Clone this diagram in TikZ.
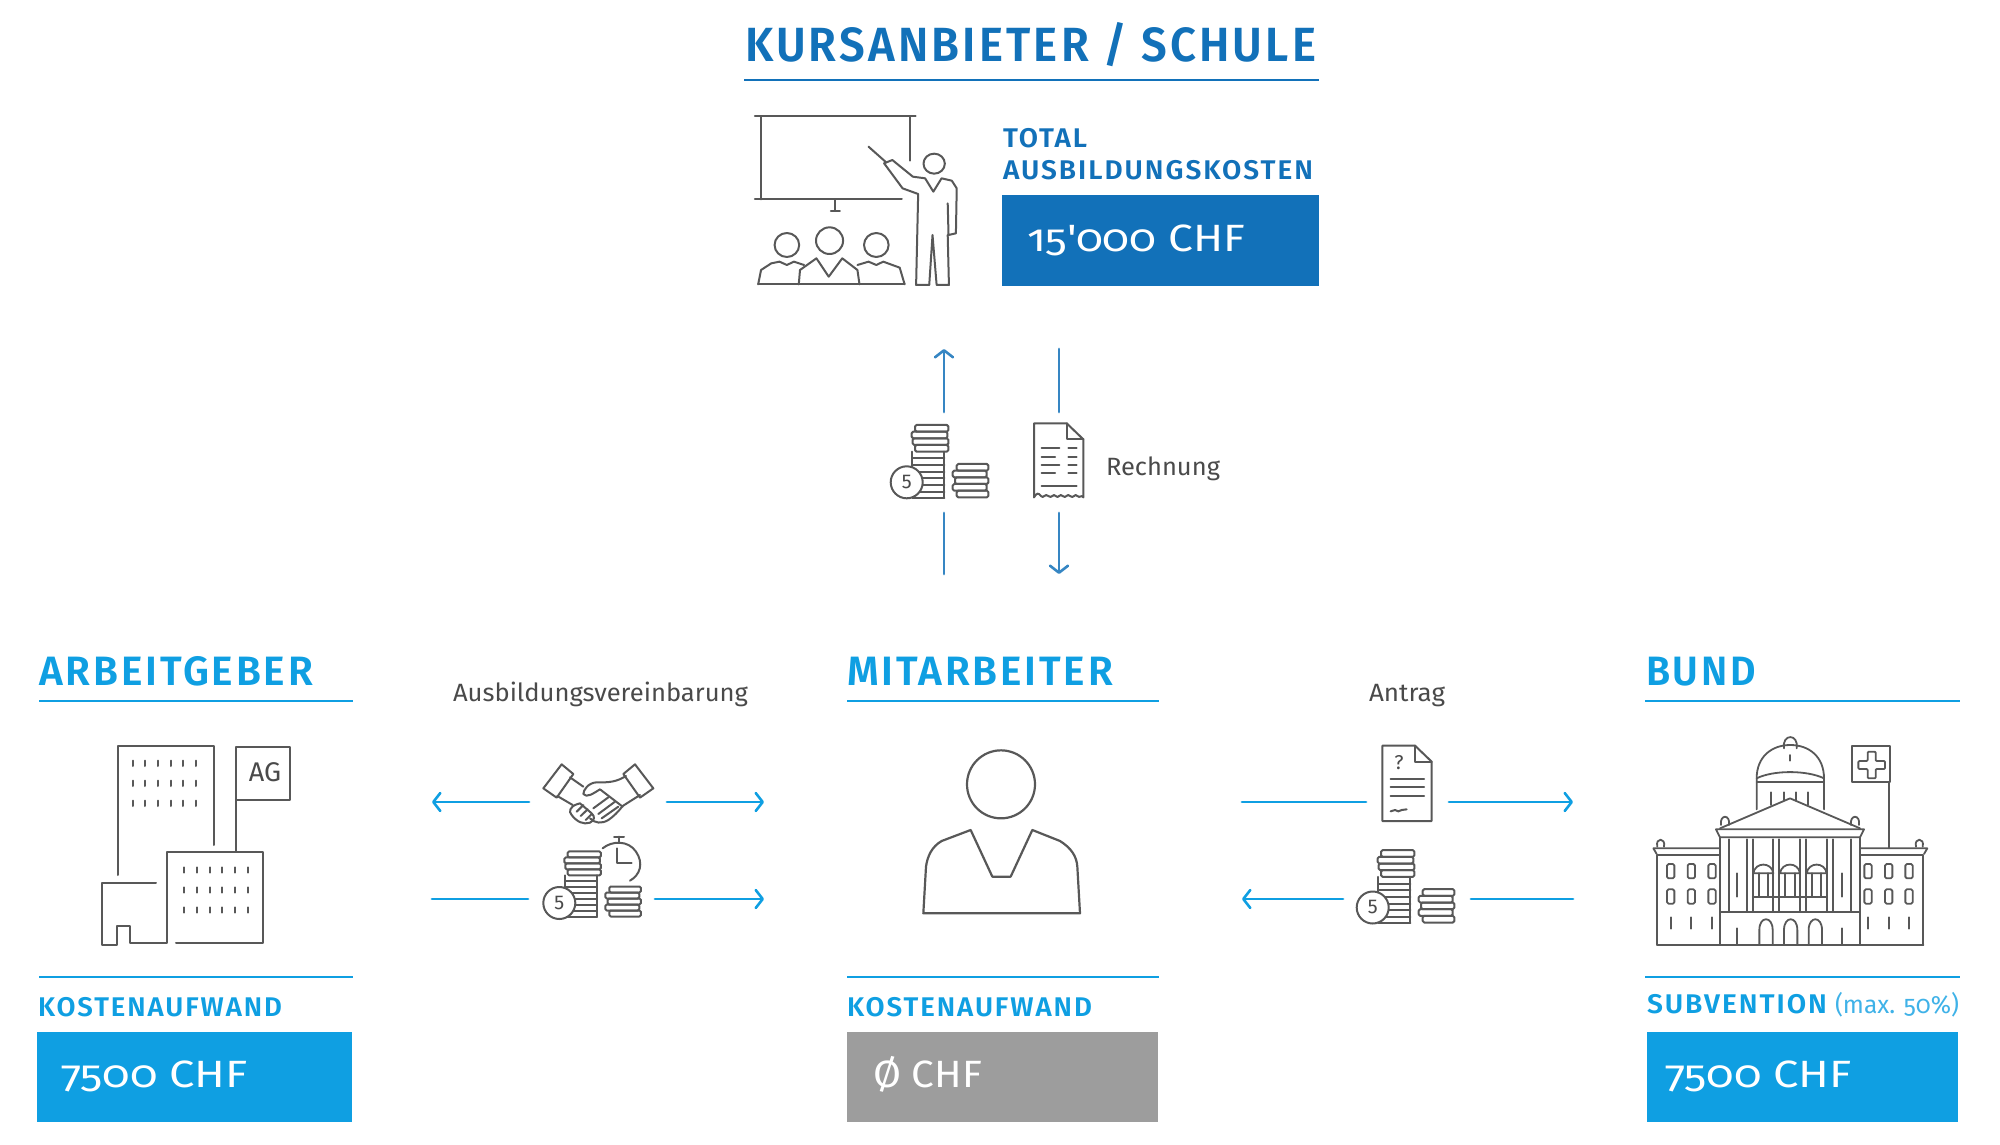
\documentclass[tikz,border=0pt]{standalone}
\usepackage{fontspec}
\usepackage{graphicx}
\usetikzlibrary{arrows.meta}
\setmainfont{Fira Sans}
\newfontfamily\capf[LetterSpace=7]{Fira Sans SemiBold}
\newfontfamily\valf[Numbers=OldStyle]{Fira Sans}
\definecolor{dblue}{HTML}{1271B9}
\definecolor{lblue}{HTML}{0F9FE2}
\definecolor{graybox}{HTML}{9D9D9D}
\definecolor{linegray}{HTML}{585858}
\definecolor{labgray}{HTML}{4A4A4A}
\newsavebox\fitbox
\newdimen\fitd
\newcommand\fitx[2]{\sbox\fitbox{#2}\fitd=\wd\fitbox\pgfmathsetmacro\fitr{#1/\fitd}\scalebox{\fitr}[1]{\usebox\fitbox}}
\tikzset{
  txt/.style={anchor=base west,inner sep=0pt,outer sep=0pt},
  rulel/.style={draw=lblue,line width=2.5pt},
  ruled/.style={draw=dblue,line width=2.6pt},
  icon/.style={draw=linegray,line width=2pt,line join=round,line cap=round},
  zoomed/.style 2 args={shift={(#1,#2)},x=0.33333pt,y=-0.33333pt},
  connl/.style={draw=lblue,line width=2.8pt,line cap=round},
  connd/.style={draw=dblue!85!white,line width=2.8pt,line cap=round},
  barb/.style={-{Straight Barb[length=7pt,width=18pt,line width=2.6pt,round]}},
}
\newcommand\headtxt[1]{\fontsize{41}{41}\selectfont\capf #1}
\newcommand\smalltxt[1]{\fontsize{27}{27}\selectfont\capf #1}
\newcommand\valtxt[1]{\fontsize{38}{38}\selectfont\valf #1}
\newcommand\labtxt[1]{\fontsize{25}{25}\selectfont\valf #1}
\newcommand\coinsicon[5]{%
\begin{scope}[shift={(#1,#2)},x=#3*0.33333pt,y=-#4*0.33333pt]
 \foreach \a/\b/\t in {25/125/-172,15/122/-152,18/125/-132,25/125/-112}
   \draw[icon,rounded corners=1.5pt] (\a,\t) rectangle (\b,\t+20);
 \foreach \t in {-72,-52,-32,-12,8,28,46}
   \draw[icon] (17,\t) -- (113,\t);
 \draw[icon] (17,-92) -- (17,-40);
 \draw[icon] (113,-92) -- (113,46);
 \foreach \a/\b/\t in {150/245/-55,138/240/-35,145/245/-15,138/240/5,150/245/25}
   \draw[icon,rounded corners=1.5pt] (\a,\t) rectangle (\b,\t+20);
 \draw[icon,fill=white] (0,0) circle[radius=16pt];
 \node[inner sep=0pt,text=labgray,font=\fontsize{20}{20}\selectfont\valf] (#5five) at (0,0) {5};
\end{scope}}
\begin{document}
\begin{tikzpicture}[x=1pt,y=-1pt]
\useasboundingbox (0,0) rectangle (2000,1145);
\fill[white] (0,0) rectangle (2000,1145);

%---------- top block
\node[txt,text=dblue] (title) at (745,62) {\fitx{571}{\fontsize{48}{48}\selectfont\capf KURSANBIETER / SCHULE}};
\draw[ruled] (744,80) -- (1319,80);
\node[txt,text=dblue] (total) at (1003,147) {\fitx{84}{\smalltxt{TOTAL}}};
\node[txt,text=dblue] (ausb) at (1003,179) {\fitx{310}{\smalltxt{AUSBILDUNGSKOSTEN}}};
\fill[dblue] (1002,195) rectangle (1319,286);
\node[txt,text=white] (valtop) at (1027,251) {\fitx{218}{\valtxt{15'000 CHF}}};

% presenter
\begin{scope}[zoomed={720}{0},x=0.41026pt]
 \draw[icon] (85,349) -- (477,349);
 \draw[icon] (100,349) -- (100,598);
 \draw[icon] (85,598) -- (443,598);
 \draw[icon] (462,349) -- (462,482);
 \draw[icon] (281,598) -- (281,632);
 \draw[icon] (270,632) -- (292,632);
 \draw[icon] (362,440) -- (405,487);
 \draw[icon] (522,491) ellipse[x radius=26,y radius=30];
 \draw[icon] (400,490) -- (420,480) -- (470,530) -- (500,535) -- (520,575) -- (540,535) -- (565,542) -- (577,565) -- (575,700) -- (557,705) -- (555,610);
 \draw[icon] (400,490) -- (445,565) -- (483,582) -- (478,855) -- (510,855) -- (518,705) -- (528,855) -- (558,855) -- (555,705);
 \draw[icon] (163,735) ellipse[x radius=30,y radius=36];
 \draw[icon] (267,722) ellipse[x radius=33,y radius=40];
 \draw[icon] (381,735) ellipse[x radius=30,y radius=36];
 \draw[icon] (93,853) -- (450,853);
 \draw[icon] (93,853) -- (100,810) -- (125,790) -- (145,785) -- (163,795) -- (180,785) -- (205,795);
 \draw[icon] (192,853) -- (195,810) -- (235,775) -- (265,830) -- (298,775) -- (335,810) -- (340,853);
 \draw[icon] (335,795) -- (362,785) -- (381,795) -- (398,785) -- (438,803) -- (450,853);
\end{scope}

%---------- top connectors and icons
\coordinate (payU1) at (944,412); \coordinate (payU2) at (944,349);
\coordinate (payL1) at (944,574); \coordinate (payL2) at (944,513);
\coordinate (billU1) at (1059,349); \coordinate (billU2) at (1059,412);
\coordinate (billL1) at (1059,513); \coordinate (billL2) at (1059,574);
\draw[connd,barb] (payU1) -- (payU2);
\draw[connd] (payL1) -- (payL2);
\draw[connd] (billU1) -- (billU2);
\draw[connd,barb] (billL1) -- (billL2);
\coinsicon{906.7}{482.3}{1}{1}{ca}
\begin{scope}[zoomed={860}{320}]
 \draw[icon] (522,532) -- (522,310) -- (620,310) -- (670,358) -- (670,532);
 \draw[icon] (620,310) -- (620,358) -- (670,358);
 \draw[icon] (522,532) .. controls (530,518) and (535,518) .. (543,528) .. controls (550,538) and (555,518) .. (565,528) .. controls (575,538) and (580,518) .. (587,528) .. controls (595,538) and (600,518) .. (608,528) .. controls (617,538) and (622,518) .. (630,528) .. controls (640,538) and (645,518) .. (652,528) .. controls (660,536) and (665,522) .. (670,532);
 \foreach \y/\e in {385/598,410/585,435/598,460/585} {
  \draw[icon] (545,\y) -- (\e,\y);
  \draw[icon] (625,\y) -- (650,\y);
 }
 \draw[icon] (545,497) -- (650,497);
\end{scope}
\node[txt,text=labgray] (rechnung) at (1106,475) {\fitx{114}{\labtxt{Rechnung}}};

%---------- Arbeitgeber
\node[txt,text=lblue] (arb) at (39,685) {\fitx{274}{\headtxt{ARBEITGEBER}}};
\draw[rulel] (39,701) -- (353,701);
\draw[rulel] (39,977) -- (353,977);
\node[txt,text=lblue] (kostA) at (38,1016) {\fitx{244}{\smalltxt{KOSTENAUFWAND}}};
\fill[lblue] (37,1032) rectangle (352,1122);
\node[txt,text=white] (valA) at (61,1087) {\fitx{187}{\valtxt{7500 CHF}}};
\begin{scope}[zoomed={20}{640}]
 \draw[icon] (293,705) -- (293,318) -- (581,318) -- (581,615);
 \draw[icon] (648,635) -- (648,320) -- (810,320) -- (810,480) -- (648,480);
 \node[inner sep=0pt,text=labgray] (ag) at (735,398) {\fontsize{27}{27}\selectfont\valf AG};
 \foreach \x in {338,376,414,452,490,528}
  \foreach \y in {370,430,490}
   \draw[icon] (\x,\y-8) -- (\x,\y+8);
 \foreach \x in {493,531,569,607,645,683}
  \foreach \y in {690,750,810}
   \draw[icon] (\x,\y-8) -- (\x,\y+8);
 \draw[icon] (468,910) -- (730,910) -- (730,637) -- (441,637) -- (441,910) -- (330,910) -- (330,858) -- (290,858) -- (290,915) -- (247,915) -- (247,730) -- (408,730);
\end{scope}

%---------- Ausbildungsvereinbarung
\node[txt,text=labgray] (ausbv) at (453,701) {\fitx{295}{\labtxt{Ausbildungsvereinbarung}}};
\coordinate (a1a) at (529,802); \coordinate (a1b) at (432,802);
\coordinate (a2a) at (667,802); \coordinate (a2b) at (764,802);
\coordinate (a3a) at (432,899); \coordinate (a3b) at (528,899);
\coordinate (a4a) at (655,899); \coordinate (a4b) at (764,899);
\draw[connl,barb] (a1a) -- (a1b);
\draw[connl,barb] (a2a) -- (a2b);
\draw[connl] (a3a) -- (a3b);
\draw[connl,barb] (a4a) -- (a4b);
\begin{scope}[zoomed={420}{670}]
 % handshake
 \draw[icon] (425,283) -- (460,312) -- (410,383) -- (370,355) -- cycle;
 \draw[icon] (645,283) -- (610,312) -- (660,383) -- (700,355) -- cycle;
 \draw[icon] (450,322) -- (490,350);
 \draw[icon] (412,378) -- (458,405);
 \draw[icon] (618,318) .. controls (590,335) and (570,338) .. (530,337) .. controls (505,338) and (490,360) .. (490,372) .. controls (500,385) and (520,370) .. (540,358) -- (608,410);
 \draw[icon] (660,375) -- (608,408) .. controls (595,425) and (580,440) .. (565,450) .. controls (545,462) and (525,460) .. (510,445);
 \draw[icon] (585,395) -- (535,432);
 \draw[icon] (595,410) -- (545,445);
 \draw[icon] (565,382) -- (520,415);
 \draw[icon] (470,403) .. controls (450,410) and (445,425) .. (455,435) .. controls (470,455) and (490,465) .. (510,458) .. controls (525,450) and (525,440) .. (515,430) -- (480,400) -- cycle;
 \draw[icon] (470,425) -- (490,405);
 \draw[icon] (482,438) -- (503,418);
 \draw[icon] (497,450) -- (515,432);
 % stopwatch
 \draw[icon] (548,535) .. controls (575,512) and (625,510) .. (648,545) .. controls (672,580) and (660,615) .. (630,632);
 \draw[icon] (597,500) -- (597,515);
 \draw[icon] (582,500) -- (612,500);
 \draw[icon] (590,535) -- (590,578) -- (635,578);
\end{scope}
\coinsicon{559.3}{903}{1}{0.9}{cb}

%---------- Mitarbeiter
\node[txt,text=lblue] (mit) at (847,685) {\fitx{266}{\headtxt{MITARBEITER}}};
\draw[rulel] (847,701) -- (1159,701);
\draw[rulel] (847,977) -- (1159,977);
\node[txt,text=lblue] (kostM) at (847,1016) {\fitx{245}{\smalltxt{KOSTENAUFWAND}}};
\fill[graybox] (847,1032) rectangle (1158,1122);
\node[txt,text=white] (valM) at (873,1087) {\fitx{109}{\valtxt{Ø CHF}}};
\begin{scope}[zoomed={840}{640}]
 \draw[icon,line width=2.2pt] (483,433) circle[radius=102];
 \draw[icon,line width=2.2pt] (250,820) -- (258,680) .. controls (262,650) and (275,620) .. (305,603) -- (392,570) -- (457,710) -- (512,710) -- (577,570) -- (660,603) .. controls (695,625) and (710,650) .. (712,680) -- (720,820) -- cycle;
\end{scope}

%---------- Antrag
\node[txt,text=labgray] (antrag) at (1369,701) {\fitx{76}{\labtxt{Antrag}}};
\coordinate (b1a) at (1242,802); \coordinate (b1b) at (1366,802);
\coordinate (b2a) at (1449,802); \coordinate (b2b) at (1573,802);
\coordinate (b3a) at (1343,899); \coordinate (b3b) at (1242,899);
\coordinate (b4a) at (1471,899); \coordinate (b4b) at (1573,899);
\draw[connl] (b1a) -- (b1b);
\draw[connl,barb] (b2a) -- (b2b);
\draw[connl,barb] (b3a) -- (b3b);
\draw[connl] (b4a) -- (b4b);
\begin{scope}[zoomed={1230}{670}]
 \draw[icon] (457,227) -- (555,227) -- (605,275) -- (605,453) -- (457,453) -- cycle;
 \draw[icon] (555,227) -- (555,275) -- (605,275);
 \node[inner sep=0pt,text=labgray] (qm) at (507,278) {\fontsize{20}{20}\selectfont\valf ?};
 \foreach \y in {328,352,377} \draw[icon] (482,\y) -- (582,\y);
 \draw[icon] (482,424) -- (495,420) -- (505,424) -- (515,420) -- (530,418);
\end{scope}
\coinsicon{1372.7}{907.5}{1}{1}{cc}

%---------- Bund
\node[txt,text=lblue] (bund) at (1646,685) {\fitx{110}{\headtxt{BUND}}};
\draw[rulel] (1645,701) -- (1960,701);
\draw[rulel] (1645,977) -- (1960,977);
\node[txt,text=lblue] (subv) at (1647,1013) {\fitx{180}{\smalltxt{SUBVENTION}}};
\node[txt,text=lblue!80!white] (maxp) at (1835,1013) {\fitx{124}{\labtxt{(max. 50\%)}}};
\fill[lblue] (1647,1032) rectangle (1958,1122);
\node[txt,text=white] (valB) at (1665,1087) {\fitx{187}{\valtxt{7500 CHF}}};
\begin{scope}[zoomed={1640}{720},icon/.append style={line width=1.8pt}]
 % dome
 \draw[icon] (350,268) -- (350,175) .. controls (350,110) and (395,75) .. (451,75) .. controls (507,75) and (552,110) .. (552,175) -- (552,268);
 \draw[icon] (432,85) .. controls (425,40) and (477,40) .. (470,85);
 \draw[icon] (350,175) .. controls (400,150) and (500,150) .. (552,175);
 \draw[icon] (350,187) -- (552,187);
 \draw[icon] (450,105) -- (450,122);
 \foreach \x/\b in {393/255,431/240,468/240,505/255} \draw[icon] (\x,217) -- (\x,\b);
 % pediment
 \draw[icon] (240,325) -- (450,235) -- (660,325);
 \draw[icon] (228,328) -- (672,328) -- (660,352) -- (240,352) -- cycle;
 \draw[icon] (243,315) .. controls (238,282) and (272,282) .. (267,315);
 \draw[icon] (633,315) .. controls (628,282) and (662,282) .. (657,315);
 % centre
 \draw[icon] (240,352) -- (240,675);
 \draw[icon] (660,352) -- (660,675);
 \foreach \x in {268,320,338,400,418,480,498,560,578,632} \draw[icon] (\x,358) -- (\x,575);
 \draw[icon] (240,575) -- (660,575);
 \foreach \d in {0,80,160} {
  \draw[icon] (340+\d,460) .. controls (345+\d,425) and (395+\d,425) .. (400+\d,460) -- cycle;
  \draw[icon] (356+\d,460) -- (356+\d,530);
  \draw[icon] (384+\d,460) -- (384+\d,530);
 }
 \draw[icon] (338,530) -- (560,530);
 \foreach \d in {0,74,148}
  \draw[icon] (358+\d,675) -- (358+\d,630) .. controls (358+\d,587) and (398+\d,587) .. (398+\d,630) -- (398+\d,675);
 \draw[icon] (292,625) -- (292,672);
 \draw[icon] (605,625) -- (605,672);
 \draw[icon] (292,460) -- (292,530);
 \draw[icon] (605,460) -- (605,530);
 % wings
 \draw[icon] (52,675) -- (850,675);
 \draw[icon] (240,405) -- (52,405) -- (52,675);
 \draw[icon] (660,405) -- (850,405) -- (850,675);
 \draw[icon] (240,385) -- (40,385) -- (50,402);
 \draw[icon] (660,385) -- (862,385) -- (852,402);
 \draw[icon] (52,380) .. controls (45,352) and (78,352) .. (72,380);
 \draw[icon] (828,380) .. controls (821,352) and (855,352) .. (848,380);
 \foreach \x in {92,154,216,684,746,807} {
  \draw[icon,rounded corners=1.5pt] (\x-11,432) rectangle (\x+11,475);
  \draw[icon,rounded corners=1.5pt] (\x-11,508) rectangle (\x+11,551);
  \draw[icon] (\x,592) -- (\x,626);
 }
 % flag
 \draw[icon] (748,187) -- (748,385);
 \draw[icon] (637,77) rectangle (750,187);
 \draw[icon,rounded corners=1pt] (683,95) -- (707,95) -- (707,123) -- (735,123) -- (735,147) -- (707,147) -- (707,175) -- (683,175) -- (683,147) -- (655,147) -- (655,123) -- (683,123) -- cycle;
\end{scope}
\end{tikzpicture}
\end{document}
